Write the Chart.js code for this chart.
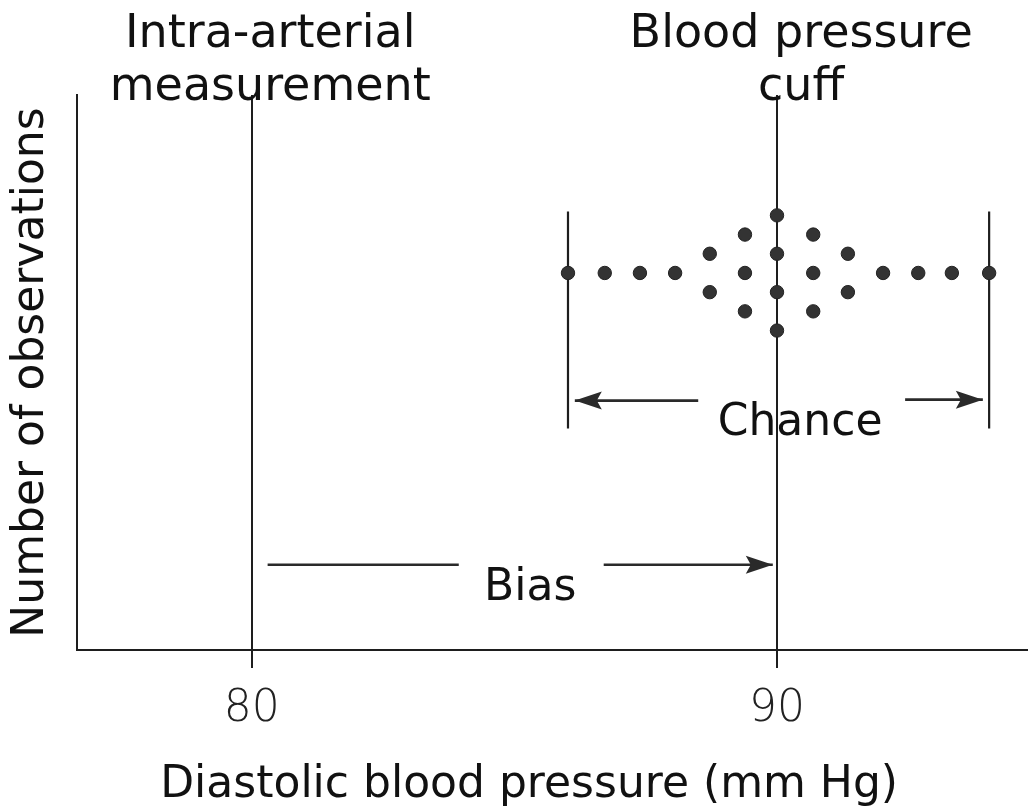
<!DOCTYPE html>
<html>
<head>
<meta charset="utf-8">
<script src="https://cdn.jsdelivr.net/npm/chart.js@4.4.1/dist/chart.umd.min.js"></script>
<style>
  html, body { margin: 0; padding: 0; background: #fff; }
  #chart { display: block; }
</style>
</head>
<body>
<canvas id="chart" width="1028" height="812"></canvas>
<script>
// x axis range and ticks (mm Hg)
const xMin = 76.67;
const xMax = 94.78;
const xTicks = [80, 90];
// y has no units: dot rows are stacked around 0
const yMin = -19.64;
const yMax = 9.27;

// cuff readings, one dot each
const dotX = [86.02, 86.72, 87.39, 88.06, 88.72, 88.72, 89.39, 89.39, 89.39,
  90, 90, 90, 90, 90.69, 90.69, 90.69, 91.35, 91.35, 92.02, 92.69, 93.33, 94.04];
const dotY = [0, 0, 0, 0, 1, -1, 2, 0, -2, 3, 1, -1, -3, 2, 0, -2, 1, -1, 0, 0, 0, 0];

// spread of the chance error
const chanceX = [86.02, 94.04];
const chanceTop = 3.2;
const chanceBottom = -8.1;

// arrows: [x0, x1, y], head drawn at x1
const arrows = [
  [88.50, 86.15, -6.65],
  [92.44, 93.92, -6.6],
  [83.94, 80.30, -15.2],
  [86.70, 89.92, -15.2]
];
const arrowHead = [true, true, false, true];

// annotations (last one is the x axis title, set a bit left of the plot centre)
const labelText = ['Intra-arterial', 'measurement', 'Blood pressure', 'cuff', 'Chance', 'Bias',
  'Diastolic blood pressure (mm Hg)'];
const labelX = [80.35, 80.35, 90.46, 90.46, 90.44, 85.30, 85.28];
const labelY = [11.77, 9.01, 11.77, 9.01, -8.44, -17.03, -27.3];
const labelSize = [46, 46, 46, 46, 44, 44, 44];

const ink = '#1e1e1e';
const font = "'DejaVu Sans', Verdana, sans-serif";

const datasets = [];
datasets.push({
  type: 'scatter',
  data: dotX.map((x, i) => ({ x: x, y: dotY[i] })),
  backgroundColor: '#333',
  borderColor: '#222',
  borderWidth: 1,
  pointRadius: 6.7
});
chanceX.forEach(x => {
  datasets.push({
    type: 'line',
    data: [{ x: x, y: chanceTop }, { x: x, y: chanceBottom }],
    borderColor: ink,
    borderWidth: 2.2,
    pointRadius: 0
  });
});
arrows.forEach((a, i) => {
  datasets.push({
    type: 'line',
    data: [{ x: a[0], y: a[2] }, { x: a[1], y: a[2] }],
    borderColor: '#2a2a2a',
    borderWidth: 2.6,
    pointRadius: 0,
    arrow: arrowHead[i]
  });
});

// arrowheads + text labels
const extras = {
  id: 'extras',
  afterDatasetsDraw(chart) {
    const ctx = chart.ctx;
    const xs = chart.scales.x, ys = chart.scales.y;
    chart.data.datasets.forEach((ds, i) => {
      if (!ds.arrow) return;
      const pts = chart.getDatasetMeta(i).data;
      const p0 = pts[0], p1 = pts[1];
      const dir = Math.sign(p1.x - p0.x);
      const len = 27, half = 9, notch = 22;
      ctx.save();
      ctx.fillStyle = '#2a2a2a';
      ctx.beginPath();
      ctx.moveTo(p1.x, p1.y);
      ctx.lineTo(p1.x - dir * len, p1.y - half);
      ctx.lineTo(p1.x - dir * notch, p1.y);
      ctx.lineTo(p1.x - dir * len, p1.y + half);
      ctx.closePath();
      ctx.fill();
      ctx.restore();
    });
    ctx.save();
    ctx.fillStyle = '#111';
    ctx.textAlign = 'center';
    ctx.textBaseline = 'alphabetic';
    labelText.forEach((t, i) => {
      ctx.font = labelSize[i] + 'px ' + font;
      ctx.fillText(t, xs.getPixelForValue(labelX[i]), ys.getPixelForValue(labelY[i]));
    });
    ctx.restore();
  }
};

new Chart(document.getElementById('chart'), {
  type: 'scatter',
  data: { datasets: datasets },
  options: {
    responsive: false,
    animation: false,
    layout: { autoPadding: false, padding: { top: 95, right: 0, left: 0, bottom: 0 } },
    plugins: { legend: { display: false }, tooltip: { enabled: false } },
    scales: {
      x: {
        type: 'linear',
        min: xMin,
        max: xMax,
        afterBuildTicks: axis => { axis.ticks = xTicks.map(v => ({ value: v })); },
        afterFit: axis => { axis.height = 162; },
        grid: { color: ink, lineWidth: 2, tickLength: 18 },
        border: { display: true, color: ink, width: 2 },
        ticks: {
          color: '#222',
          padding: 15,
          maxRotation: 0,
          font: { family: "'DejaVu Sans ExtraLight', 'DejaVu Sans', sans-serif", size: 44, weight: 200 }
        },
        title: { display: false }
      },
      y: {
        type: 'linear',
        min: yMin,
        max: yMax,
        afterFit: axis => { axis.width = 77; },
        grid: { display: false, drawTicks: false },
        border: { display: true, color: ink, width: 2 },
        ticks: { display: false },
        title: {
          display: true,
          text: 'Number of observations',
          color: '#111',
          font: { family: font, size: 44 },
          padding: { top: 5, bottom: 4 }
        }
      }
    }
  },
  plugins: [extras]
});
</script>
</body>
</html>
